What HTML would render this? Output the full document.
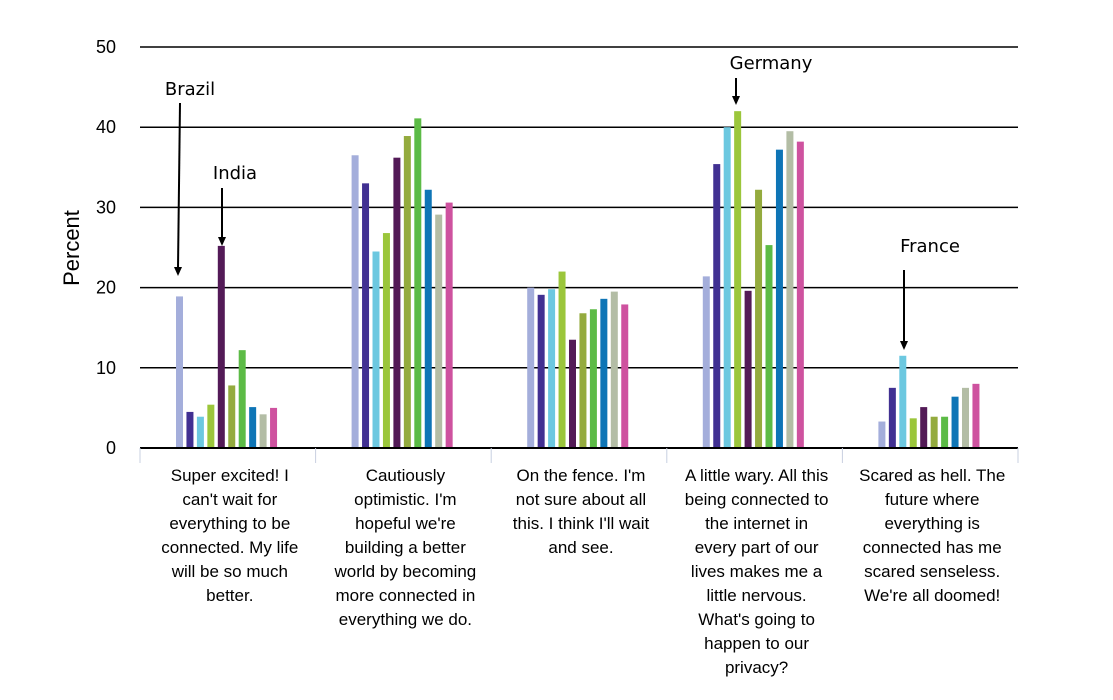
<!DOCTYPE html>
<html><head><meta charset="utf-8"><style>
body{margin:0;background:#fff;}
svg{display:block;font-family:"Liberation Sans",Arial,sans-serif;}
</style></head><body>
<svg id="chart" width="1113" height="700" xmlns="http://www.w3.org/2000/svg">
<g id="grid"></g>
<g id="bars"></g>
<g id="axes"></g>
<text x="79" y="248" font-size="22" text-anchor="middle" transform="rotate(-90 79 248)">Percent</text>
<g font-size="18" font-family="DejaVu Sans, sans-serif">
<text x="190" y="95" text-anchor="middle">Brazil</text>
<line x1="180" y1="103" x2="178" y2="268" stroke="#000" stroke-width="2"/>
<path d="M174,267 L182,267 L178,276 Z" fill="#000"/>
<text x="235" y="179" text-anchor="middle">India</text>
<line x1="222" y1="188" x2="222" y2="238" stroke="#000" stroke-width="2"/>
<path d="M218,237 L226,237 L222,246 Z" fill="#000"/>
<text x="771" y="69" text-anchor="middle">Germany</text>
<line x1="736" y1="78" x2="736" y2="97" stroke="#000" stroke-width="2"/>
<path d="M732,96 L740,96 L736,105 Z" fill="#000"/>
<text x="930" y="252" text-anchor="middle">France</text>
<line x1="904" y1="270" x2="904" y2="342" stroke="#000" stroke-width="2"/>
<path d="M900,341 L908,341 L904,350 Z" fill="#000"/>
</g>
<g id="cats" font-size="17" fill="#000"></g>
</svg>
<script>
const categories=[
["Super excited! I","can't wait for","everything to be","connected. My life","will be so much","better."],
["Cautiously","optimistic. I'm","hopeful we're","building a better","world by becoming","more connected in","everything we do."],
["On the fence. I'm","not sure about all","this. I think I'll wait","and see."],
["A little wary. All this","being connected to","the internet in","every part of our","lives makes me a","little nervous.","What's going to","happen to our","privacy?"],
["Scared as hell. The","future where","everything is","connected has me","scared senseless.","We're all doomed!"]];
const s1=[18.9,36.5,20.0,21.4,3.3];
const s2=[4.5,33.0,19.1,35.4,7.5];
const s3=[3.9,24.5,19.8,40.0,11.5];
const s4=[5.4,26.8,22.0,42.0,3.7];
const s5=[25.2,36.2,13.5,19.6,5.1];
const s6=[7.8,38.9,16.8,32.2,3.9];
const s7=[12.2,41.1,17.3,25.3,3.9];
const s8=[5.1,32.2,18.6,37.2,6.4];
const s9=[4.2,29.1,19.5,39.5,7.5];
const s10=[5.0,30.6,17.9,38.2,8.0];
const series=[s1,s2,s3,s4,s5,s6,s7,s8,s9,s10];
const colors=["#a4aedb","#413092","#6cc8e0","#9bc63b","#531a57","#94ab3e","#5cbb46","#0e75b6","#b3bda5","#ce529f"];
const yTicks=[0,10,20,30,40,50];
const NS="http://www.w3.org/2000/svg";
const X0=140,X1=1018,Y0=448,YT=47,YMAX=50;
const gw=(X1-X0)/categories.length;
function y(v){return Y0-(Y0-YT)*v/YMAX;}
function gx(i){return X0+i*gw;}
function mk(t,a,p){const e=document.createElementNS(NS,t);for(const k in a)e.setAttribute(k,a[k]);p.appendChild(e);return e;}
const grid=document.getElementById('grid'),bars=document.getElementById('bars'),axes=document.getElementById('axes'),cats=document.getElementById('cats');
yTicks.forEach(v=>{
 if(v>0){const l=mk('line',{x1:X0,x2:X1,y1:y(v),y2:y(v),stroke:'#000','stroke-width':1.5},grid);
 
 }
 const t=mk('text',{x:116,y:y(v)+6,'text-anchor':'end','font-size':18},axes);t.textContent=v;
 
 
});
series.forEach((s,si)=>{s.forEach((v,ci)=>{
 const bx=gx(ci)+36+si*10.45;
 const r=mk('rect',{x:bx,y:y(v),width:7,height:Y0-y(v),fill:colors[si]},bars);
 
 
});});
const ax=mk('line',{x1:X0,x2:X1,y1:Y0,y2:Y0,stroke:'#000','stroke-width':2},axes);


for(let i=0;i<=categories.length;i++){
 const t=mk('line',{x1:gx(i),x2:gx(i),y1:Y0,y2:Y0+15,stroke:'#c8d0e0','stroke-width':1},axes);
 
 
}
categories.forEach((lines,ci)=>{
 const cx=gx(ci)+gw/2+2;
 lines.forEach((ln,li)=>{
  const t=mk('text',{x:cx,y:481+li*24,'text-anchor':'middle'},cats);t.textContent=ln;
  
  
 });
});
</script>
</body></html>
